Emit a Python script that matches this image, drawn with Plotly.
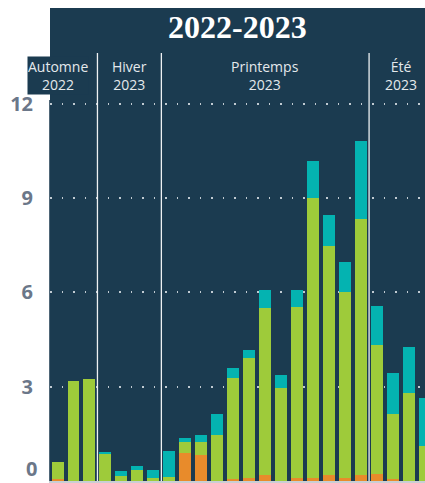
import plotly.graph_objects as go

# ---- data ----
x_idx = list(range(24))
orange = [0.07, 0, 0, 0, 0, 0, 0, 0, 0.89, 0.83, 0, 0.06, 0.10, 0.19, 0, 0.10, 0.10, 0.19, 0.10, 0.19, 0.22, 0.06, 0, 0]
green = [0.53, 3.18, 3.25, 0.89, 0.16, 0.35, 0.10, 0.13, 0.35, 0.41, 1.46, 3.22, 3.81, 5.31, 2.96, 5.44, 8.90, 7.29, 5.92, 8.15, 4.11, 2.07, 2.80, 1.11]
teal = [0, 0, 0, 0.02, 0.17, 0.13, 0.25, 0.83, 0.13, 0.22, 0.67, 0.32, 0.26, 0.58, 0.41, 0.54, 1.18, 0.99, 0.95, 2.48, 1.24, 1.31, 1.46, 1.53]
seasons = ["Automne<br>2022", "Hiver<br>2023", "Printemps<br>2023", "Été<br>2023"]
season_centers = [0, 4.5, 13, 21.5]
season_breaks = [2.5, 6.5, 19.5]
y_ticks = [3, 6, 9, 12]
y_zero_label = "0"
title_text = "2022-2023"

NAVY = "#1b3b50"
ORANGE = "#e88b2b"
GREEN = "#9ecb3a"
TEAL = "#04b3b1"
TICK_FONT = dict(family="Open Sans", size=20, color="#6b7789")

fig = go.Figure()
for vals, col in [(orange, ORANGE), (green, GREEN), (teal, TEAL)]:
    fig.add_trace(go.Bar(x=x_idx, y=vals, marker=dict(color=col, line=dict(width=0)),
                         showlegend=False, hoverinfo="skip"))

plot_top, plot_bot = 100, 481
ph = plot_bot - plot_top
def py(px):
    return (plot_bot - px) / ph

shapes = [dict(type="rect", xref="paper", yref="paper", x0=0, x1=1.02, y0=0, y1=py(8),
               fillcolor=NAVY, line=dict(width=0), layer="below")]
for b in season_breaks:
    shapes.append(dict(type="line", xref="x", yref="paper", x0=b, x1=b, y0=0, y1=py(53),
                       line=dict(color="#eef1f3", width=1.3), layer="above"))

annotations = [dict(text=f"<b>{title_text}</b>", xref="paper", yref="paper", x=0.5, y=py(27),
                    showarrow=False, xanchor="center", yanchor="middle",
                    font=dict(family="Liberation Serif", size=32, color="white"))]
for i, (s, c) in enumerate(zip(seasons, season_centers)):
    a = dict(text=s, xref="x", yref="paper", x=c, y=py(76), showarrow=False,
             xanchor="center", yanchor="middle",
             font=dict(family="Open Sans", size=14, color="#e4e9ec"))
    if i == 0:
        a["bgcolor"] = NAVY
        a["borderpad"] = 0
    annotations.append(a)
# zero label, kept inside the picture
annotations.append(dict(text=f"<b>{y_zero_label}</b>", xref="paper", yref="y", x=0, y=0,
                        xanchor="right", yanchor="bottom", xshift=-12, yshift=-2,
                        showarrow=False, font=TICK_FONT, borderpad=0))

fig.update_layout(
    width=425, height=483,
    margin=dict(l=50, r=0, t=plot_top, b=483 - plot_bot, pad=0, autoexpand=False),
    paper_bgcolor="white", plot_bgcolor=NAVY,
    barmode="stack", bargap=0.25,
    shapes=shapes, annotations=annotations,
    xaxis=dict(range=[-0.47, 23.0], showticklabels=False, ticks="", showgrid=False,
               automargin=False,
               zeroline=False, showline=True, linecolor="#c9cfd4", linewidth=2, fixedrange=True),
    yaxis=dict(range=[0, (plot_bot - plot_top) / 31.42], tickvals=y_ticks,
               ticktext=[f"<b>{v}</b>" for v in y_ticks],
               tickfont=TICK_FONT,
               ticks="outside", ticklen=12, tickcolor="rgba(0,0,0,0)",
               ticklabeloverflow="allow", automargin=False,
               showgrid=True, gridcolor="rgba(235,240,243,0.8)", gridwidth=1.5,
               griddash="1.5px,10px", zeroline=False,
               showline=True, linecolor="#4f6677", linewidth=1),
)

fig.write_html("out.html", config={"displayModeBar": False},
               post_script="document.body.style.margin='0';document.body.style.overflow='hidden';")
